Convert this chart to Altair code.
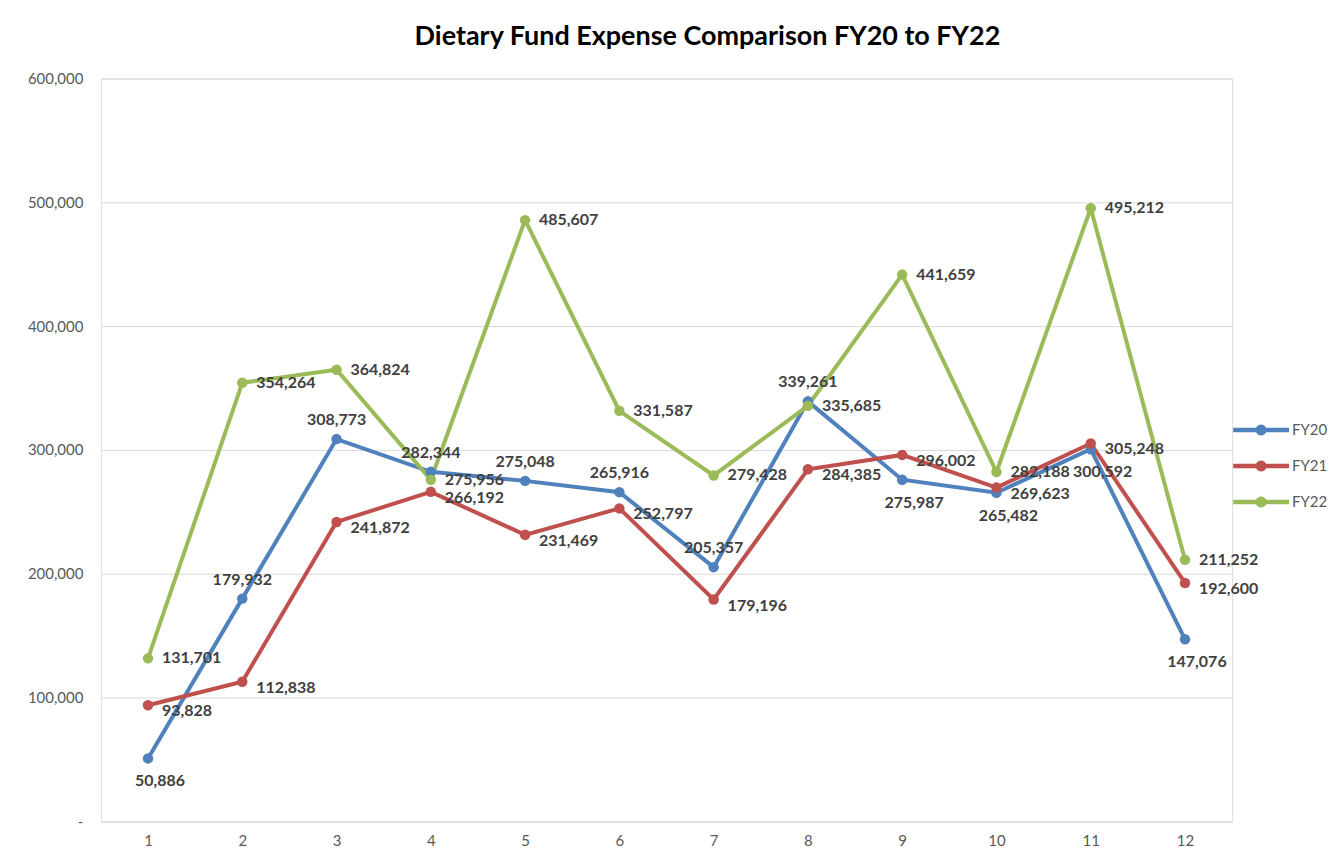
import altair as alt
import pandas as pd

months = [1, 2, 3, 4, 5, 6, 7, 8, 9, 10, 11, 12]
fy20 = [50886, 179932, 308773, 282344, 275048, 265916, 205357, 339261, 275987, 265482, 300592, 147076]
fy21 = [93828, 112838, 241872, 266192, 231469, 252797, 179196, 284385, 296002, 269623, 305248, 192600]
fy22 = [131701, 354264, 364824, 275956, 485607, 331587, 279428, 335685, 441659, 282188, 495212, 211252]
series = ["FY20", "FY21", "FY22"]
colors = ["#4F81BD", "#C0504D", "#9BBB59"]

rows = []
for name, vals in zip(series, [fy20, fy21, fy22]):
    for m, v in zip(months, vals):
        rows.append({"Month": m, "Value": v, "Series": name})
df = pd.DataFrame(rows)

FONT = "Lato"

# legend symbol: a line with a marker in the middle (single contour)
LEGEND_SYMBOL = ("M -1 -0.08 L -0.1817 -0.08 A 0.2 0.2 0 0 1 0.1817 -0.08 L 1 -0.08 "
                 "L 1 0.08 L 0.1817 0.08 A 0.2 0.2 0 0 1 -0.1817 0.08 L -1 0.08 Z")

x = alt.X("Month:O", scale=alt.Scale(type="point", padding=0.5),
          axis=alt.Axis(title=None, labelAngle=0, labelFontSize=15, labelColor="#595959",
                        labelFont=FONT, ticks=False, domainColor="#D9D9D9", labelPadding=12,
                        grid=False))
y = alt.Y("Value:Q", scale=alt.Scale(domain=[0, 600000], nice=False),
          axis=alt.Axis(title=None, values=[0, 100000, 200000, 300000, 400000, 500000, 600000],
                        labelExpr="datum.value == 0 ? '-' : format(datum.value, ',')",
                        labelFontSize=15, labelColor="#595959", labelFont=FONT,
                        ticks=False, domain=False, gridColor="#D9D9D9", labelPadding=18))
color = alt.Color("Series:N", scale=alt.Scale(domain=series, range=colors),
                  legend=alt.Legend(title=None, orient="none", legendX=1134, legendY=324,
                                    labelFontSize=15, labelColor="#595959", labelFont=FONT,
                                    symbolType=LEGEND_SYMBOL, symbolSize=3136,
                                    symbolStrokeWidth=0, rowPadding=-40, labelOffset=3))

base = alt.Chart(df)
lines = base.mark_line(strokeWidth=4, point=alt.OverlayMarkDef(size=110, filled=True, opacity=1)).encode(
    x=x, y=y, color=color)

label_style = dict(fontSize=16, fontWeight="bold", color="#404040", font=FONT)
txt = alt.Text("Value:Q", format=",")

fy20_base = base.transform_joinaggregate(minV="min(Value)", groupby=["Month"]).transform_filter(
    alt.datum.Series == "FY20")
lab20_up = fy20_base.transform_filter(alt.datum.Value > alt.datum.minV).mark_text(
    dy=-19, align="center", **label_style).encode(x=x, y=y, text=txt)
lab20_down = fy20_base.transform_filter(alt.datum.Value <= alt.datum.minV).mark_text(
    dx=12, dy=23, align="center", **label_style).encode(x=x, y=y, text=txt)
lab21 = base.transform_filter(alt.datum.Series == "FY21").mark_text(
    dx=14, dy=6, align="left", **label_style).encode(x=x, y=y, text=txt)
lab22 = base.transform_filter(alt.datum.Series == "FY22").mark_text(
    dx=14, dy=0, align="left", **label_style).encode(x=x, y=y, text=txt)

chart = alt.layer(lines, lab20_up, lab20_down, lab21, lab22).properties(
    width=1133, height=744,
    title=alt.Title("Dietary Fund Expense Comparison FY20 to FY22", fontSize=27, fontWeight="bold",
                    font=FONT, color="#000000", anchor="middle", dx=41, offset=21),
    autosize=alt.AutoSizeParams(type="none"),
    padding={"left": 93, "top": 70, "right": 99, "bottom": 30},
).configure_view(stroke=None).configure(background="white")

chart.save("out.html", embed_options={"renderer": "svg", "actions": False})
